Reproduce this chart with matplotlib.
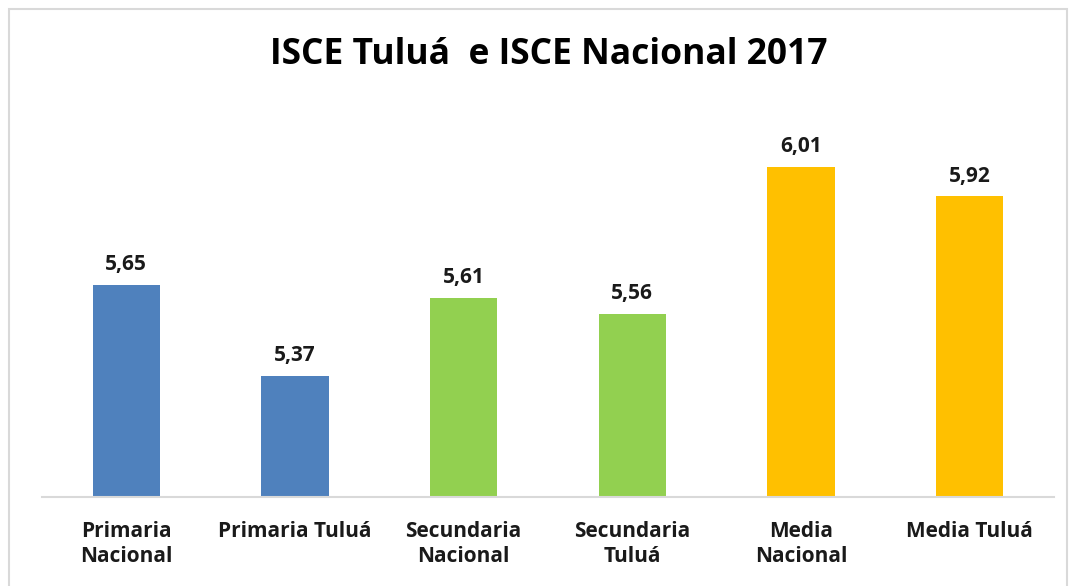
import matplotlib.pyplot as plt
from matplotlib.patches import Rectangle

categories = ["Primaria\nNacional", "Primaria Tuluá", "Secundaria\nNacional",
              "Secundaria\nTuluá", "Media\nNacional", "Media Tuluá"]
values = [5.65, 5.37, 5.61, 5.56, 6.01, 5.92]
value_labels = ["5,65", "5,37", "5,61", "5,56", "6,01", "5,92"]
colors = ["#4F81BD", "#4F81BD", "#92D050", "#92D050", "#FFC000", "#FFC000"]

plt.rcParams["font.family"] = ["Open Sans", "DejaVu Sans"]


def main() -> None:
    fig = plt.figure(figsize=(10.77, 5.86), dpi=100)
    ax = fig.add_axes([42 / 1077, 1 - 497 / 586, (1054 - 42) / 1077, (497 - 100) / 586])

    x = range(len(categories))
    ax.bar(x, values, width=0.4, color=colors, bottom=0)
    for i, (v, lab) in enumerate(zip(values, value_labels)):
        ax.text(i, v + 0.03, lab, ha="center", va="bottom", fontsize=15,
                fontweight="bold", color="#1a1a1a")

    ax.set_xlim(-0.5, len(categories) - 0.5)
    ax.set_ylim(5.0, 6.215)
    ax.set_xticks(list(x))
    ax.set_xticklabels(categories, fontsize=15, fontweight="bold", color="#1a1a1a",
                       linespacing=1.3)
    ax.tick_params(axis="x", length=0, pad=17)
    ax.set_yticks([])
    for side in ["left", "right", "top"]:
        ax.spines[side].set_visible(False)
    ax.spines["bottom"].set_color("#D9D9D9")
    ax.spines["bottom"].set_linewidth(1.5)

    fig.text(549 / 1077, 1 - 55 / 586, "ISCE Tuluá  e ISCE Nacional 2017", ha="center",
             va="center", fontsize=25.5, fontweight="bold", color="#000000")

    fig.patches.append(Rectangle((9 / 1077, -0.1), 1058 / 1077, 1.1 - 9 / 586,
                                 transform=fig.transFigure, fill=False,
                                 edgecolor="#D9D9D9", linewidth=1.5))

    fig.savefig("out.png", dpi=100)
    plt.close(fig)


if __name__ == "__main__":
    main()
